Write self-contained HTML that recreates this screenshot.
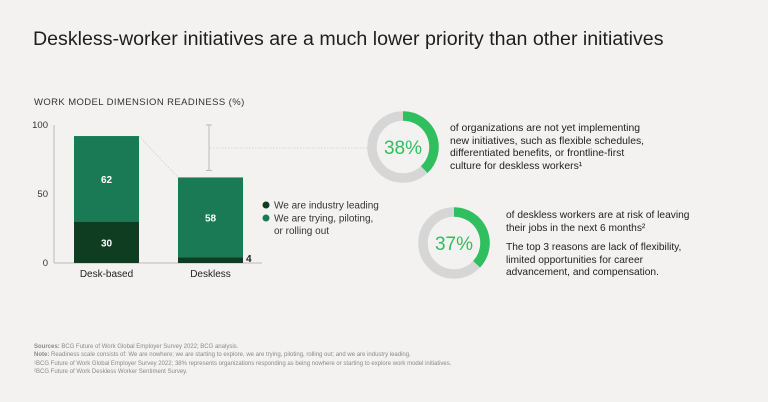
<!DOCTYPE html>
<html><head><meta charset="utf-8"><style>
body{margin:0;background:#f3f2f0;font-family:"Liberation Sans",sans-serif;}
#root{position:relative;width:768px;height:402px;overflow:hidden;background:#f3f2f0;}
.t{position:absolute;white-space:nowrap;color:#222;}
</style></head><body>
<div id="root">
<div class="t" style="left:33px;top:28px;font-size:19.6px;color:#1e1e1e;">Deskless-worker initiatives are a much lower priority than other initiatives</div>
<div class="t" style="left:34px;top:97px;font-size:9.5px;letter-spacing:0.4px;color:#333;">WORK MODEL DIMENSION READINESS (%)</div>
<svg id="chart" width="768" height="402" style="position:absolute;left:0;top:0;font-family:'Liberation Sans',sans-serif;"></svg>
<div class="t" style="left:450px;top:123px;font-size:10.4px;line-height:12.5px;color:#222;">of organizations are not yet implementing<br>new initiatives, such as flexible schedules,<br>differentiated benefits, or frontline-first<br>culture for deskless workers¹</div>
<div class="t" style="left:506px;top:210px;font-size:10.2px;line-height:12.5px;color:#222;">of deskless workers are at risk of leaving<br>their jobs in the next 6 months²</div>
<div class="t" style="left:506px;top:242px;font-size:10.2px;line-height:12.5px;color:#222;">The top 3 reasons are lack of flexibility,<br>limited opportunities for career<br>advancement, and compensation.</div>
<div class="t" style="left:34px;top:343px;font-size:6px;line-height:8.3px;color:#8a8a8a;"><b>Sources:</b> BCG Future of Work Global Employer Survey 2022; BCG analysis.<br><b>Note:</b> Readiness scale consists of: We are nowhere; we are starting to explore, we are trying, piloting, rolling out; and we are industry leading.<br>¹BCG Future of Work Global Employer Survey 2022; 38% represents organizations responding as being nowhere or starting to explore work model initiatives.<br>²BCG Future of Work Deskless Worker Sentiment Survey.</div>
</div>
<script>
const categories=["Desk-based","Deskless"];
const leading=[30,4];
const trying=[62,58];
const yTicks=[0,50,100];
const donutValues=[38,37];
const NS="http://www.w3.org/2000/svg";
const svg=document.getElementById('chart');
function mk(tag,attrs,parent){const e=document.createElementNS(NS,tag);for(const k in attrs)e.setAttribute(k,attrs[k]);(parent||svg).appendChild(e);return e;}
const y0=263,k=1.38;
function y(v){return y0-v*k;}
const barX=[74,178],barW=65;
function xb(i){return barX[0]+i*(barX[1]-barX[0]);}
let e;
e=mk('line',{x1:54,y1:y(100),x2:54,y2:y0,stroke:'#bbb','stroke-width':1});


e=mk('line',{x1:54,y1:y0,x2:262,y2:y0,stroke:'#bbb','stroke-width':1});


yTicks.forEach(t=>{
 const tx=mk('text',{x:48,y:y(t)+3,'text-anchor':'end','font-size':9.5,fill:'#333'});
 tx.textContent=t;
 
 
});
categories.forEach((c,i)=>{
 const x=xb(i);
 const r1=mk('rect',{x:x,y:y(leading[i]),width:barW,height:leading[i]*k,fill:'#0f3d22'});
 
 
 const tot=leading[i]+trying[i];
 const r2=mk('rect',{x:x,y:y(tot),width:barW,height:trying[i]*k,fill:'#1b7a56'});
 
 
 const l2=mk('text',{x:x+barW/2,y:y(leading[i]+trying[i]/2)+4,'text-anchor':'middle','font-size':10,'font-weight':'bold',fill:'#fff'});
 l2.textContent=trying[i];
 
 
 let l1;
 if(leading[i]>=10){l1=mk('text',{x:x+barW/2,y:y(leading[i]/2)+4,'text-anchor':'middle','font-size':10,'font-weight':'bold',fill:'#fff'});}
 else{l1=mk('text',{x:x+barW+3,y:y0-1,'font-size':10,'font-weight':'bold',fill:'#222'});}
 l1.textContent=leading[i];
 
 
 const cl=mk('text',{x:x+barW/2,y:y0+14,'text-anchor':'middle','font-size':10,fill:'#222'});
 cl.textContent=c;
 
 
});
const t0=leading[0]+trying[0],t1=leading[1]+trying[1];
e=mk('line',{x1:xb(0)+barW,y1:y(t0),x2:xb(1),y2:y(t1),stroke:'#ccc','stroke-width':0.8,'stroke-dasharray':'1.5,1.5'});


const bx=209;
e=mk('path',{d:`M${bx-3},${y(100)}H${bx+3}M${bx},${y(100)}V${y(t1)-7}M${bx-3},${y(t1)-7}H${bx+3}`,stroke:'#bbb','stroke-width':1,fill:'none'});


e=mk('line',{x1:bx+1,y1:148,x2:368,y2:148,stroke:'#ccc','stroke-width':0.8,'stroke-dasharray':'1.5,1.5'});


[["We are industry leading","#0f3d22",205],["We are trying, piloting,","#1b7a56",218]].forEach((d,i)=>{
 const c=mk('circle',{cx:266,cy:d[2],r:3.5,fill:d[1]});
 
 
 const t=mk('text',{x:274,y:d[2]+3.5,'font-size':10,fill:'#333'});
 t.textContent=d[0];
 
 
});
e=mk('text',{x:274,y:234,'font-size':10,fill:'#333'});e.textContent='or rolling out';


const centers=[[403,147],[454,243]];
donutValues.forEach((v,i)=>{
 const [cx,cy]=centers[i],r=31;
 const g=mk('circle',{cx:cx,cy:cy,r:r,fill:'none',stroke:'#d6d6d6','stroke-width':9.5});
 
 
 const a=v/100*2*Math.PI;
 const x2=cx+r*Math.sin(a),y2=cy-r*Math.cos(a);
 const p=mk('path',{d:`M${cx},${cy-r}A${r},${r} 0 ${v>50?1:0} 1 ${x2},${y2}`,fill:'none',stroke:'#2fbf5f','stroke-width':9.5});
 
 
 const t=mk('text',{x:cx,y:cy+7,'text-anchor':'middle','font-size':19,fill:'#2fbf5f'});
 t.textContent=v+'%';
 
 
});
</script>
</body></html>
